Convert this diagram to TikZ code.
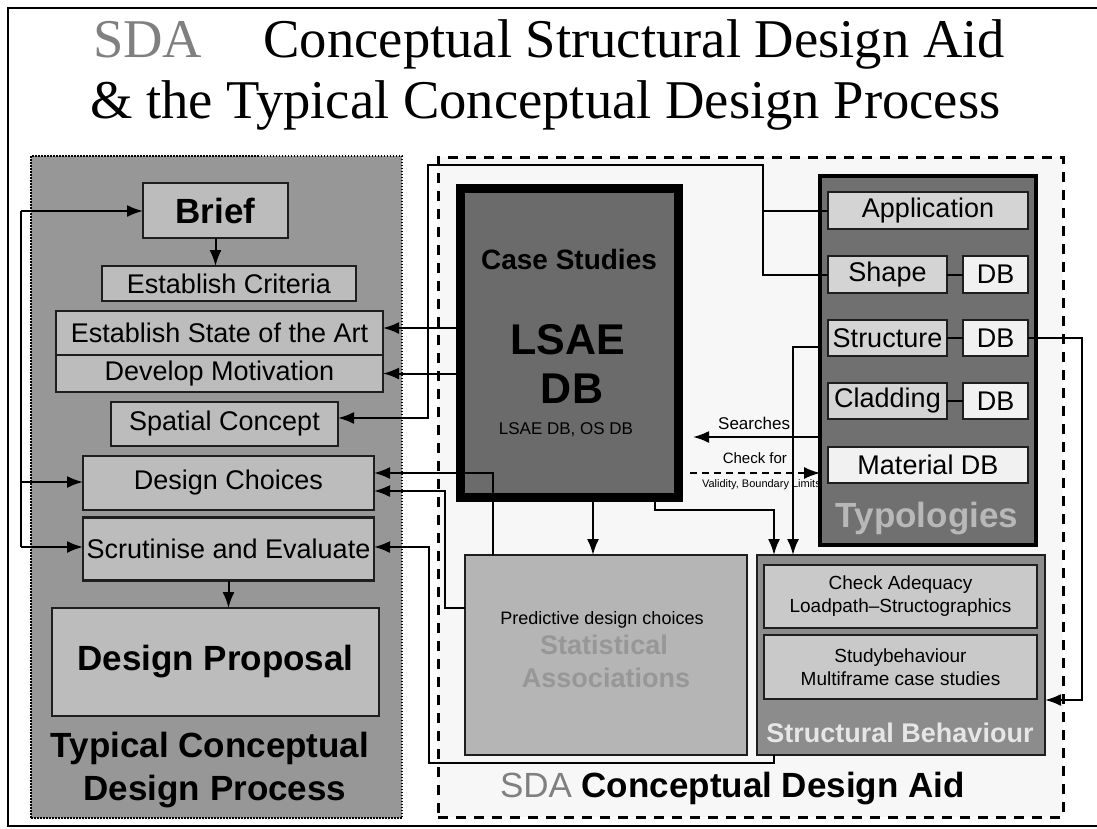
\documentclass[tikz,border=0pt]{standalone}
\usepackage{fontspec}
\setmainfont{Liberation Serif}
\setsansfont{Liberation Sans}
\usetikzlibrary{arrows.meta,calc}

\definecolor{panelgray}{HTML}{979797}
\definecolor{panellight}{HTML}{F7F7F7}
\definecolor{boxgray}{HTML}{BCBCBC}
\definecolor{lsaegray}{HTML}{6B6B6B}
\definecolor{typgray}{HTML}{707070}
\definecolor{typbox}{HTML}{D4D4D4}
\definecolor{dbbox}{HTML}{F1F1F1}
\definecolor{typtext}{HTML}{B8B8B8}
\definecolor{safill}{HTML}{B5B5B5}
\definecolor{satext}{HTML}{979797}
\definecolor{sbfill}{HTML}{8C8C8C}
\definecolor{sbbox}{HTML}{C9C9C9}
\definecolor{sbtext}{HTML}{E6E6E6}
\definecolor{sdagray}{HTML}{808080}
\definecolor{edge}{HTML}{1E1E1E}

\tikzset{
  x=1pt, y=-1pt,
  plain/.style={inner sep=0pt, outer sep=0pt},
  box/.style={draw=edge, line width=2.2pt, inner sep=0pt, outer sep=0pt, align=center,
    font=\sffamily\fontsize{27}{32}\selectfont},
  leftbox/.style={box, fill=boxgray},
  typbx/.style={box, fill=typbox},
  dbbx/.style={box, fill=dbbox},
  sbbx/.style={box, fill=sbbox, font=\sffamily\fontsize{19}{23}\selectfont},
  bigbold/.style={font=\sffamily\bfseries\fontsize{35}{43}\selectfont},
  link/.style={draw=black, line width=2pt},
  arr/.style={link, -{Latex[length=16pt,width=12pt]}},
  thinarr/.style={draw=black, line width=1.4pt, dash pattern=on 7pt off 5pt,
    -{Latex[length=16pt,width=12pt]}},
}

\begin{document}
\begin{tikzpicture}
\useasboundingbox (0,0) rectangle (1097,828);
\fill[white] (0,0) rectangle (1097,828);
\draw[line width=2pt] (8,8) rectangle (1110,826);

% title
\node[plain, anchor=base west, text=sdagray, font=\fontsize{54.6}{60}\selectfont] (tsda) at (93,57) {SDA};
\node[plain, anchor=base east, font=\fontsize{54.6}{60}\selectfont] (tline1) at (1005,57) {Conceptual Structural Design Aid};
\node[plain, anchor=base west, font=\fontsize{54.6}{60}\selectfont] (tline2) at (90,118) {\& the Typical Conceptual Design Process};

% the two panels
\node[plain, draw=black, line width=1.3pt, dash pattern=on 1.5pt off 1.5pt, fill=panelgray,
  minimum width=371, minimum height=662] (leftpanel) at (216.5,487) {};
\node[plain, draw=black, line width=3pt, dash pattern=on 10pt off 8pt, fill=panellight,
  minimum width=625, minimum height=660] (sdapanel) at (750.5,487) {};

% typical conceptual design process
\node[leftbox, minimum width=145, minimum height=55, bigbold] (brief) at (215.5,210.5) {Brief};
\node[leftbox, minimum width=254, minimum height=35] (crit) at (229,283.5) {Establish Criteria};
\node[leftbox, minimum width=327, minimum height=44] (state) at (219.5,333) {Establish State of the Art};
\node[leftbox, minimum width=327, minimum height=37] (motiv) at (219.5,373.5) {Develop Motivation};
\node[leftbox, minimum width=227, minimum height=44] (spatial) at (224.5,424) {Spatial Concept};
\node[leftbox, minimum width=291, minimum height=54] (choices) at (228.5,483) {Design Choices};
\node[leftbox, minimum width=291, minimum height=63] (scrut) at (228.5,549) {Scrutinise and Evaluate};
\node[leftbox, minimum width=327, minimum height=108, bigbold] (proposal) at (215.5,662) {Design Proposal};
\node[plain, anchor=base, bigbold] (tcp1) at (210,757) {Typical Conceptual};
\node[plain, anchor=base, bigbold] (tcp2) at (215,800) {Design Process};

% case studies database
\node[plain, draw=black, line width=9pt, fill=lsaegray, minimum width=218, minimum height=309] (lsae) at (569,342.5) {};
\node[plain, anchor=base, font=\sffamily\bfseries\fontsize{28}{34}\selectfont] (cstxt) at (569,269) {Case Studies};
\node[plain, anchor=base, font=\sffamily\bfseries\fontsize{43}{50}\selectfont] (lsaetxt) at (568,354) {LSAE};
\node[plain, anchor=base, font=\sffamily\bfseries\fontsize{43}{50}\selectfont] (dbtxt) at (572,403) {DB};
\node[plain, anchor=base, font=\sffamily\fontsize{17}{20}\selectfont] (lsaesub) at (566,434) {LSAE DB, OS DB};

% typologies
\node[plain, draw=black, line width=4pt, fill=typgray, minimum width=216, minimum height=369] (typ) at (928,360.5) {};
\node[typbx, minimum width=200, minimum height=37] (app) at (928,210.5) {Application};
\node[typbx, minimum width=119, minimum height=37] (shape) at (887.5,274.5) {Shape};
\node[dbbx, minimum width=65, minimum height=37] (shdb) at (995.5,274.5) {DB};
\node[typbx, minimum width=119, minimum height=36] (struct) at (887.5,338) {Structure};
\node[dbbx, minimum width=65, minimum height=36] (stdb) at (995.5,338) {DB};
\node[typbx, minimum width=119, minimum height=36] (clad) at (887.5,401) {Cladding};
\node[dbbx, minimum width=65, minimum height=36] (cldb) at (995.5,401) {DB};
\node[dbbx, minimum width=200, minimum height=36] (mat) at (928,465) {Material DB};
\node[plain, anchor=base, text=typtext, font=\sffamily\bfseries\fontsize{35}{42}\selectfont] (typtxt) at (927,527) {Typologies};
\draw[link] (shape.east) -- (shdb.west);
\draw[link] (struct.east) -- (stdb.west);
\draw[link] (clad.east) -- (cldb.west);

% statistical associations
\node[plain, draw=edge, line width=2.2pt, fill=safill, minimum width=282, minimum height=200] (sa) at (606,655) {};
\node[plain, font=\sffamily\fontsize{18}{21}\selectfont] (satxt) at (602,620) {Predictive design choices};
\node[plain, text=satext, font=\sffamily\bfseries\fontsize{27}{32}\selectfont] (sat1) at (604,645) {Statistical};
\node[plain, text=satext, font=\sffamily\bfseries\fontsize{27}{32}\selectfont] (sat2) at (606,678) {Associations};

% structural behaviour
\node[plain, draw=edge, line width=2.5pt, fill=sbfill, minimum width=288, minimum height=200] (sb) at (901,655) {};
\node[sbbx, minimum width=273, minimum height=63] (sbc) at (900.5,596.5) {Check Adequacy\\Loadpath--Structographics};
\node[sbbx, minimum width=273, minimum height=64] (sbs) at (900.5,667) {Studybehaviour\\Multiframe case studies};
\node[plain, anchor=base, text=sbtext, font=\sffamily\bfseries\fontsize{27}{32}\selectfont] (sbtxt) at (900,742) {Structural Behaviour};

% panel caption
\node[plain, anchor=base west, font=\sffamily\fontsize{35}{42}\selectfont] (sdacap) at (500,797)
  {\textcolor{sdagray}{SDA} \textbf{Conceptual Design Aid}};

% --- connectors ---
% feedback bus on the left
\coordinate (busTop) at (21,211);
\coordinate (busMid) at (21,482);
\coordinate (busBot) at (21,547);
\draw[link] (busTop) -- (busBot);
\draw[arr] (busTop) -- (busTop -| brief.west);
\draw[arr] (busMid) -- (busMid -| choices.west);
\draw[arr] (busBot) -- (busBot -| scrut.west);

\draw[arr] (brief.south) -- (brief.south |- crit.north);
\draw[arr] (scrut.south) -- (scrut.south |- proposal.north);

% case studies to the process
\coordinate (stateIn) at ($(state.east)+(0,-5)$);
\draw[arr] (stateIn -| lsae.west) -- (stateIn);
\draw[arr] (motiv.east -| lsae.west) -- (motiv.east);

% application and shape to spatial concept
\coordinate (kA) at (763,165);
\coordinate (kB) at (428,165);
\coordinate (spIn) at ($(spatial.east)+(0,-6)$);
\draw[link] (shape.west) -| (kA);
\draw[arr] (app.west) -| (kA) -- (kB) |- (spIn);

% statistical associations to design choices
\coordinate (chA) at ($(choices.east)+(0,-10)$);
\coordinate (saTop) at ([xshift=-113pt]sa.north);
\draw[arr] (saTop) |- (chA);
\coordinate (chB) at ($(choices.east)+(0,8)$);
\coordinate (saOut) at ($(sa.west)+(0,-47)$);
\coordinate (kC) at (445,491);
\draw[arr] (saOut) -| (kC) -- (chB);

% structural behaviour to scrutinise
\coordinate (sbBot) at ([xshift=-127pt]sb.south);
\coordinate (kD) at (429,763);
\coordinate (scIn) at ($(scrut.east)+(0,-2)$);
\draw[arr] (sbBot) |- (kD) |- (scIn);

% case studies downwards
\coordinate (lsA) at ([xshift=24pt]lsae.south);
\draw[arr] (lsA) -- (lsA |- sa.north);
\coordinate (lsB) at ([xshift=86pt]lsae.south);
\coordinate (sbA) at ([xshift=-127pt]sb.north);
\draw[arr] (lsB) -- ++(0,13) -| (sbA);

% structure typology to structural behaviour
\coordinate (kF) at (793,347);
\draw[arr] (kF -| typ.west) -- (kF) -- (kF |- sb.north);

% searches and checks between typologies and case studies
\coordinate (srch) at (693,437);
\draw[arr] (srch -| typ.west) -- (srch);
\node[plain, anchor=base east, font=\sffamily\fontsize{17}{20}\selectfont] (srchlbl) at (790,429) {Searches};
\coordinate (chk) at (690,473);
\draw[thinarr] (chk) -- (chk -| typ.west);
\node[plain, anchor=base east, font=\sffamily\fontsize{15}{18}\selectfont] (chklbl) at (787,463) {Check for};
\node[plain, anchor=base west, font=\sffamily\fontsize{11}{13}\selectfont] (vallbl) at (702,487) {Validity, Boundary Limits};

% structure database to structural behaviour
\coordinate (kH) at (1082,700);
\draw[arr] (stdb.east) -| (kH) -- (kH -| sb.east);
\end{tikzpicture}
\end{document}
